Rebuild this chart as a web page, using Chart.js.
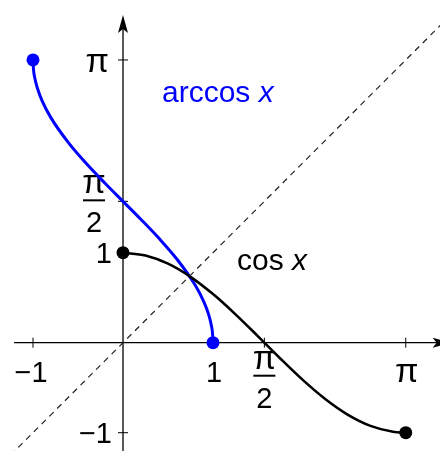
<!DOCTYPE html>
<html>
<head>
<meta charset="utf-8">
<script src="https://cdn.jsdelivr.net/npm/chart.js@4/dist/chart.umd.min.js"></script>
<style>
  html, body { margin: 0; padding: 0; background: #fff; }
  canvas { display: block; }
</style>
</head>
<body>
<canvas id="plot" width="440" height="451"></canvas>
<script>
// cos x on [0, pi]
const cosX = [0, 0.25, 0.5, 0.75, 1, 1.25, 1.5, 1.75, 2, 2.25, 2.5, 2.75, 3, 3.1416];
const cosY = [1, 0.969, 0.878, 0.732, 0.540, 0.315, 0.071, -0.178, -0.416, -0.628, -0.801, -0.924, -0.990, -1];

// arccos x on [-1, 1]
const arccosX = [-1, -0.995, -0.98, -0.95, -0.9, -0.8, -0.6, -0.4, -0.2, 0, 0.2, 0.4, 0.6, 0.8, 0.9, 0.95, 0.98, 0.995, 1];
const arccosY = [3.1416, 3.0415, 2.9413, 2.8240, 2.6906, 2.4981, 2.2143, 1.9823, 1.7722, 1.5708, 1.3694, 1.1593, 0.9273, 0.6435, 0.4510, 0.3176, 0.2003, 0.1001, 0];

// y = x reference line
const diagX = [-1.25, 3.6];
const diagY = [-1.25, 3.6];

// tick marks and labels
const xTicks = [-1, 1, Math.PI / 2, Math.PI];
const xTickLabels = ['−1', '1', 'π/2', 'π'];
const yTicks = [Math.PI, Math.PI / 2, 1, -1];
const yTickLabels = ['π', 'π/2', '1', '−1'];

const toPoints = (xs, ys) => xs.map((v, i) => ({ x: v, y: ys[i] }));

const BLUE = '#0000ff';
const FONT = '"Liberation Sans", Arial, sans-serif';
const PI_FONT = '34px ' + FONT;
const NUM_FONT = '29px ' + FONT;

// endpoints get a dot, the rest of the curve none
function endDot(ctx) {
    const n = ctx.dataset.data.length;
    return (ctx.dataIndex === 0 || ctx.dataIndex === n - 1) ? 6.5 : 0;
}

function drawFraction(ctx, cx, top) {
    // pi over 2, stacked
    ctx.textAlign = 'center';
    ctx.textBaseline = 'alphabetic';
    ctx.font = PI_FONT;
    ctx.fillText('π', cx, top);
    ctx.fillRect(cx - 11, top + 6, 22, 2);
    ctx.font = NUM_FONT;
    ctx.fillText('2', cx, top + 39);
}

const axesPlugin = {
    id: 'axes',
    beforeDatasetsDraw(chart) {
        const { ctx, scales: { x, y } } = chart;
        const x0 = x.getPixelForValue(0);
        const y0 = y.getPixelForValue(0);
        const left = x.getPixelForValue(-1.21);
        const right = x.getPixelForValue(3.64);
        const bottom = y.getPixelForValue(-1.22);
        const top = y.getPixelForValue(3.64);
        ctx.save();
        ctx.strokeStyle = '#000';
        ctx.fillStyle = '#000';
        ctx.lineWidth = 1.3;

        // x axis with arrow
        ctx.beginPath();
        ctx.moveTo(left, y0);
        ctx.lineTo(right - 10, y0);
        ctx.stroke();
        ctx.beginPath();
        ctx.moveTo(right, y0);
        ctx.lineTo(right - 18, y0 - 5);
        ctx.lineTo(right - 14, y0);
        ctx.lineTo(right - 18, y0 + 5);
        ctx.closePath();
        ctx.fill();

        // y axis with arrow
        ctx.beginPath();
        ctx.moveTo(x0, bottom);
        ctx.lineTo(x0, top + 10);
        ctx.stroke();
        ctx.beginPath();
        ctx.moveTo(x0, top);
        ctx.lineTo(x0 - 5, top + 18);
        ctx.lineTo(x0, top + 14);
        ctx.lineTo(x0 + 5, top + 18);
        ctx.closePath();
        ctx.fill();

        // ticks
        ctx.lineWidth = 1;
        xTicks.forEach(v => {
            const px = x.getPixelForValue(v);
            ctx.beginPath();
            ctx.moveTo(px, y0 - 5);
            ctx.lineTo(px, y0 + 5);
            ctx.stroke();
        });
        yTicks.forEach(v => {
            const py = y.getPixelForValue(v);
            ctx.beginPath();
            ctx.moveTo(x0 - 5, py);
            ctx.lineTo(x0 + 5, py);
            ctx.stroke();
        });

        // tick labels
        xTicks.forEach((v, i) => {
            const px = x.getPixelForValue(v);
            const label = xTickLabels[i];
            if (label === 'π/2') {
                drawFraction(ctx, px, y0 + 26);
            } else {
                ctx.font = label === 'π' ? PI_FONT : NUM_FONT;
                ctx.textAlign = 'center';
                ctx.textBaseline = 'alphabetic';
                ctx.fillText(label, label === '−1' ? px - 2 : px + 1, y0 + 39.5);
            }
        });
        yTicks.forEach((v, i) => {
            const py = y.getPixelForValue(v);
            const label = yTickLabels[i];
            if (label === 'π/2') {
                drawFraction(ctx, x0 - 29, py - 8);
            } else {
                ctx.font = label === 'π' ? PI_FONT : NUM_FONT;
                ctx.textAlign = 'right';
                ctx.textBaseline = 'alphabetic';
                ctx.fillText(label, label === 'π' ? x0 - 14 : x0 - 11, py + (label === 'π' ? 12 : 10));
            }
        });
        ctx.restore();
    },
    afterDatasetsDraw(chart) {
        const { ctx, scales: { x, y } } = chart;
        ctx.save();
        ctx.textBaseline = 'alphabetic';
        ctx.textAlign = 'left';

        // curve names, function name upright, variable italic
        const names = [
            { fn: 'arccos ', at: [0.433, 2.678], color: BLUE },
            { fn: 'cos ', at: [1.267, 0.808], color: '#000' }
        ];
        names.forEach(n => {
            const px = x.getPixelForValue(n.at[0]);
            const py = y.getPixelForValue(n.at[1]);
            ctx.fillStyle = n.color;
            ctx.font = '30px ' + FONT;
            ctx.fillText(n.fn, px, py);
            const w = ctx.measureText(n.fn).width;
            ctx.font = 'italic 30px ' + FONT;
            ctx.fillText('x', px + w, py);
        });
        ctx.restore();
    }
};

const chart = new Chart(document.getElementById('plot').getContext('2d'), {
    type: 'scatter',
    data: {
        datasets: [
            {
                label: 'y = x',
                data: toPoints(diagX, diagY),
                showLine: true,
                borderColor: '#222',
                borderWidth: 1.2,
                borderDash: [6, 5],
                pointRadius: 0
            },
            {
                label: 'cos x',
                data: toPoints(cosX, cosY),
                showLine: true,
                borderColor: '#000',
                backgroundColor: '#000',
                borderWidth: 2.6,
                cubicInterpolationMode: 'monotone',
                pointRadius: endDot,
                pointBorderWidth: 0
            },
            {
                label: 'arccos x',
                data: toPoints(arccosX, arccosY),
                showLine: true,
                borderColor: BLUE,
                backgroundColor: BLUE,
                borderWidth: 3,
                cubicInterpolationMode: 'monotone',
                pointRadius: endDot,
                pointBorderWidth: 0
            }
        ]
    },
    options: {
        responsive: false,
        animation: false,
        devicePixelRatio: 1,
        layout: { padding: 0, autoPadding: false },
        plugins: {
            legend: { display: false },
            tooltip: { enabled: false }
        },
        scales: {
            x: { type: 'linear', min: -1.3667, max: 3.5222, display: false },
            y: { type: 'linear', min: -1.2033, max: 3.8078, display: false }
        }
    },
    plugins: [axesPlugin]
});
</script>
</body>
</html>
